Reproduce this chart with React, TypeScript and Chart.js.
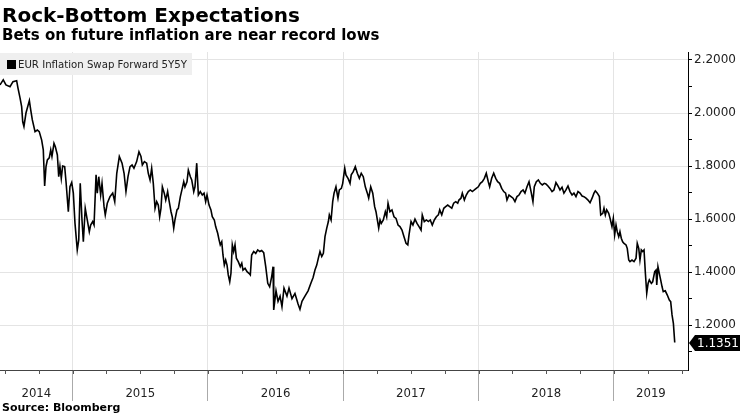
import React, { useEffect, useRef } from 'react';
import { Chart, registerables } from 'chart.js';

Chart.register(...registerables);

const titleText = 'Rock-Bottom Expectations';
const subtitleText = 'Bets on future inflation are near record lows';
const sourceText = 'Source: Bloomberg';
const seriesName = 'EUR Inflation Swap Forward 5Y5Y';

// decimal-year dates of the observations
const dates = [
  2014.463, 2014.487, 2014.507, 2014.537, 2014.559, 2014.586, 2014.596, 2014.611, 2014.623, 2014.631,
  2014.640, 2014.655, 2014.680, 2014.690, 2014.702, 2014.722, 2014.739, 2014.753, 2014.771, 2014.783,
  2014.793, 2014.803, 2014.813, 2014.827, 2014.838, 2014.847, 2014.862, 2014.872, 2014.887, 2014.897,
  2014.906, 2014.916, 2014.926, 2014.941, 2014.951, 2014.968, 2014.980, 2014.993, 2015.005, 2015.017,
  2015.034, 2015.045, 2015.056, 2015.069, 2015.079, 2015.093, 2015.108, 2015.123, 2015.133, 2015.148,
  2015.158, 2015.173, 2015.182, 2015.193, 2015.207, 2015.217, 2015.232, 2015.241, 2015.256, 2015.276,
  2015.296, 2015.311, 2015.326, 2015.345, 2015.365, 2015.380, 2015.394, 2015.409, 2015.424, 2015.439,
  2015.453, 2015.473, 2015.490, 2015.505, 2015.515, 2015.530, 2015.547, 2015.559, 2015.572, 2015.584,
  2015.596, 2015.609, 2015.621, 2015.633, 2015.643, 2015.653, 2015.663, 2015.677, 2015.688, 2015.702,
  2015.712, 2015.727, 2015.736, 2015.747, 2015.756, 2015.771, 2015.781, 2015.796, 2015.810, 2015.821,
  2015.830, 2015.845, 2015.855, 2015.870, 2015.880, 2015.895, 2015.904, 2015.917, 2015.929, 2015.943,
  2015.958, 2015.971, 2015.983, 2015.993, 2016.008, 2016.022, 2016.032, 2016.047, 2016.057, 2016.072,
  2016.082, 2016.091, 2016.102, 2016.111, 2016.121, 2016.131, 2016.141, 2016.150, 2016.161, 2016.170,
  2016.180, 2016.190, 2016.200, 2016.210, 2016.224, 2016.239, 2016.250, 2016.259, 2016.274, 2016.289,
  2016.303, 2016.313, 2016.323, 2016.338, 2016.353, 2016.368, 2016.383, 2016.397, 2016.412, 2016.427,
  2016.442, 2016.456, 2016.471, 2016.481, 2016.486, 2016.503, 2016.518, 2016.533, 2016.547, 2016.562,
  2016.584, 2016.599, 2016.621, 2016.643, 2016.666, 2016.680, 2016.695, 2016.717, 2016.740, 2016.762,
  2016.777, 2016.791, 2016.804, 2016.816, 2016.828, 2016.841, 2016.853, 2016.865, 2016.878, 2016.890,
  2016.897, 2016.910, 2016.922, 2016.932, 2016.946, 2016.961, 2016.971, 2016.986, 2016.996, 2017.011,
  2017.020, 2017.035, 2017.050, 2017.059, 2017.074, 2017.089, 2017.104, 2017.119, 2017.133, 2017.148,
  2017.163, 2017.178, 2017.188, 2017.203, 2017.218, 2017.232, 2017.242, 2017.252, 2017.262, 2017.272,
  2017.281, 2017.296, 2017.311, 2017.321, 2017.331, 2017.345, 2017.360, 2017.375, 2017.390, 2017.405,
  2017.419, 2017.434, 2017.449, 2017.464, 2017.477, 2017.486, 2017.501, 2017.515, 2017.530, 2017.545,
  2017.560, 2017.575, 2017.584, 2017.599, 2017.614, 2017.629, 2017.643, 2017.658, 2017.673, 2017.688,
  2017.703, 2017.713, 2017.728, 2017.743, 2017.757, 2017.772, 2017.787, 2017.802, 2017.816, 2017.831,
  2017.846, 2017.855, 2017.870, 2017.880, 2017.895, 2017.909, 2017.924, 2017.939, 2017.954, 2017.969,
  2017.983, 2017.998, 2018.013, 2018.028, 2018.043, 2018.057, 2018.072, 2018.082, 2018.097, 2018.112,
  2018.127, 2018.141, 2018.156, 2018.171, 2018.186, 2018.200, 2018.210, 2018.225, 2018.240, 2018.255,
  2018.269, 2018.284, 2018.299, 2018.314, 2018.329, 2018.343, 2018.358, 2018.373, 2018.388, 2018.402,
  2018.412, 2018.427, 2018.442, 2018.457, 2018.471, 2018.486, 2018.498, 2018.513, 2018.528, 2018.543,
  2018.557, 2018.572, 2018.587, 2018.602, 2018.617, 2018.631, 2018.646, 2018.661, 2018.676, 2018.691,
  2018.705, 2018.720, 2018.735, 2018.750, 2018.765, 2018.779, 2018.794, 2018.809, 2018.824, 2018.839,
  2018.853, 2018.863, 2018.878, 2018.893, 2018.903, 2018.918, 2018.927, 2018.937, 2018.947, 2018.962,
  2018.972, 2018.986, 2018.996, 2019.006, 2019.016, 2019.025, 2019.036, 2019.045, 2019.055, 2019.065,
  2019.075, 2019.090, 2019.099, 2019.110, 2019.119, 2019.134, 2019.149, 2019.164, 2019.173, 2019.184,
  2019.193, 2019.203, 2019.213, 2019.223, 2019.233, 2019.243, 2019.253, 2019.262, 2019.277, 2019.287,
  2019.302, 2019.312, 2019.317, 2019.326, 2019.336, 2019.346, 2019.356, 2019.365, 2019.380, 2019.395,
  2019.410, 2019.420, 2019.430, 2019.440, 2019.450,
];

// EUR 5y5y inflation swap forward
const values = [
  2.106, 2.125, 2.106, 2.099, 2.118, 2.122, 2.094, 2.057, 2.024, 1.967,
  1.949, 2.000, 2.047, 2.012, 1.974, 1.930, 1.936, 1.930, 1.898, 1.861,
  1.725, 1.798, 1.823, 1.831, 1.861, 1.836, 1.886, 1.873, 1.842, 1.760,
  1.798, 1.754, 1.800, 1.798, 1.741, 1.628, 1.722, 1.738, 1.698, 1.586,
  1.484, 1.522, 1.735, 1.597, 1.515, 1.641, 1.597, 1.553, 1.578, 1.591,
  1.578, 1.767, 1.698, 1.760, 1.691, 1.735, 1.647, 1.616, 1.660, 1.685,
  1.698, 1.666, 1.773, 1.836, 1.811, 1.773, 1.704, 1.760, 1.798, 1.804,
  1.792, 1.817, 1.854, 1.836, 1.804, 1.817, 1.811, 1.773, 1.748, 1.792,
  1.735, 1.641, 1.666, 1.653, 1.609, 1.641, 1.722, 1.698, 1.672, 1.704,
  1.672, 1.628, 1.609, 1.566, 1.597, 1.635, 1.641, 1.685, 1.716, 1.741,
  1.722, 1.741, 1.785, 1.760, 1.748, 1.704, 1.722, 1.811, 1.691, 1.704,
  1.691, 1.698, 1.666, 1.691, 1.653, 1.635, 1.609, 1.597, 1.572, 1.547,
  1.522, 1.503, 1.515, 1.465, 1.427, 1.446, 1.427, 1.390, 1.364, 1.396,
  1.503, 1.478, 1.503, 1.453, 1.440, 1.421, 1.434, 1.408, 1.415, 1.402,
  1.396, 1.390, 1.465, 1.478, 1.471, 1.484, 1.478, 1.482, 1.474, 1.421,
  1.358, 1.345, 1.383, 1.421, 1.258, 1.330, 1.290, 1.310, 1.270, 1.340,
  1.310, 1.340, 1.300, 1.320, 1.280, 1.260, 1.290, 1.310, 1.330, 1.360,
  1.380, 1.408, 1.427, 1.453, 1.478, 1.459, 1.471, 1.534, 1.566, 1.591,
  1.616, 1.597, 1.666, 1.698, 1.722, 1.679, 1.710, 1.716, 1.735, 1.792,
  1.767, 1.754, 1.735, 1.767, 1.779, 1.798, 1.773, 1.754, 1.773, 1.760,
  1.722, 1.698, 1.679, 1.722, 1.698, 1.647, 1.628, 1.597, 1.566, 1.597,
  1.584, 1.597, 1.628, 1.609, 1.660, 1.628, 1.635, 1.609, 1.603, 1.578,
  1.572, 1.559, 1.534, 1.509, 1.503, 1.541, 1.591, 1.578, 1.600, 1.584,
  1.572, 1.559, 1.616, 1.591, 1.597, 1.591, 1.597, 1.578, 1.597, 1.609,
  1.616, 1.635, 1.616, 1.641, 1.647, 1.653, 1.647, 1.641, 1.660, 1.666,
  1.660, 1.672, 1.679, 1.698, 1.672, 1.691, 1.704, 1.710, 1.704, 1.710,
  1.716, 1.722, 1.735, 1.741, 1.754, 1.773, 1.741, 1.722, 1.754, 1.773,
  1.754, 1.741, 1.735, 1.716, 1.704, 1.698, 1.672, 1.691, 1.685, 1.679,
  1.666, 1.685, 1.691, 1.704, 1.710, 1.698, 1.722, 1.741, 1.704, 1.666,
  1.722, 1.741, 1.748, 1.735, 1.729, 1.735, 1.733, 1.725, 1.716, 1.704,
  1.710, 1.738, 1.725, 1.710, 1.720, 1.698, 1.710, 1.725, 1.704, 1.691,
  1.698, 1.685, 1.704, 1.698, 1.687, 1.685, 1.679, 1.672, 1.662, 1.679,
  1.698, 1.707, 1.698, 1.685, 1.616, 1.622, 1.641, 1.616, 1.635, 1.622,
  1.603, 1.572, 1.603, 1.541, 1.578, 1.553, 1.534, 1.553, 1.528, 1.515,
  1.509, 1.503, 1.490, 1.446, 1.440, 1.446, 1.440, 1.453, 1.509, 1.490,
  1.446, 1.484, 1.478, 1.484, 1.396, 1.321, 1.358, 1.371, 1.358, 1.364,
  1.402, 1.408, 1.352, 1.421, 1.396, 1.371, 1.346, 1.327, 1.330, 1.314,
  1.295, 1.289, 1.239, 1.207, 1.1351,
];

const yearStarts = [2014, 2015, 2016, 2017, 2018, 2019];
const yearLabels = ['2014', '2015', '2016', '2017', '2018', '2019'];
const yTickValues = [1.1, 1.2, 1.3, 1.4, 1.5, 1.6, 1.7, 1.8, 1.9, 2.0, 2.1, 2.2];
const yLabelledValues = [1.2, 1.4, 1.6, 1.8, 2.0, 2.2];
const xMin = 2014.463;
const xMax = 2019.548;
const yMin = 1.0315;
const yMax = 2.23;

const axisFont = "'DejaVu Sans Condensed', 'DejaVu Sans', sans-serif";

const isLabelledY = (v: number) => yLabelledValues.some((l) => Math.abs(l - v) < 1e-6);
const isYearStart = (v: number) => yearStarts.some((y) => Math.abs(y - v) < 1e-6);

const extrasPlugin = {
  id: 'extras',
  afterDraw(chart: any) {
    const { ctx } = chart;
    const xs = chart.scales.x;
    const ys = chart.scales.y;
    ctx.save();
    // quarterly minor ticks on the time axis
    ctx.strokeStyle = '#555';
    ctx.lineWidth = 1;
    for (let k = Math.ceil(xs.min * 4); k <= Math.floor(xs.max * 4); k++) {
      const px = Math.round(xs.getPixelForValue(k / 4)) + 0.5;
      ctx.beginPath();
      ctx.moveTo(px, xs.top);
      ctx.lineTo(px, xs.top + 4);
      ctx.stroke();
    }
    // last value tag
    const last = values[values.length - 1];
    const py = Math.round(ys.getPixelForValue(last));
    const x0 = ys.left + 1;
    const h = 8;
    ctx.fillStyle = '#000';
    ctx.beginPath();
    ctx.moveTo(x0, py);
    ctx.lineTo(x0 + 6, py - h);
    ctx.lineTo(chart.width, py - h);
    ctx.lineTo(chart.width, py + h);
    ctx.lineTo(x0 + 6, py + h);
    ctx.closePath();
    ctx.fill();
    ctx.fillStyle = '#fff';
    ctx.font = "12px 'DejaVu Sans', sans-serif";
    ctx.textBaseline = 'middle';
    ctx.textAlign = 'left';
    ctx.fillText(last.toFixed(4), x0 + 8, py + 1);
    ctx.restore();
  },
};

function ChartCanvas() {
  const ref = useRef<HTMLCanvasElement | null>(null);
  useEffect(() => {
    if (!ref.current) return;
    const chart = new Chart(ref.current, {
      type: 'line',
      data: {
        datasets: [
          {
            label: seriesName,
            data: dates.map((d, i) => ({ x: d, y: values[i] })),
            borderColor: '#000',
            borderWidth: 1.6,
            pointRadius: 0,
            tension: 0,
            fill: false,
          },
        ],
      },
      options: {
        responsive: false,
        animation: false,
        parsing: false as any,
        layout: { padding: { top: 52, left: 0, right: 0, bottom: 0 } },
        plugins: { legend: { display: false }, tooltip: { enabled: false } },
        scales: {
          x: {
            type: 'linear',
            position: 'bottom',
            min: xMin,
            max: xMax,
            afterBuildTicks: (scale: any) => {
              const t: number[] = [];
              yearStarts.forEach((y) => {
                if (y > scale.min && y < scale.max) t.push(y);
                const a = Math.max(y, scale.min);
                const b = Math.min(y + 1, scale.max);
                if (b > a) t.push((a + b) / 2);
              });
              t.sort((p, q) => p - q);
              scale.ticks = t.map((v) => ({ value: v }));
            },
            afterFit: (scale: any) => {
              scale.height = 46;
            },
            grid: {
              color: (c: any) => (c.tick && isYearStart(c.tick.value) ? '#e4e4e4' : 'transparent'),
              tickColor: (c: any) => (c.tick && isYearStart(c.tick.value) ? '#aaaaaa' : 'transparent'),
              tickLength: 31,
              lineWidth: 1,
            },
            border: { display: true, color: '#444', width: 1 },
            ticks: {
              autoSkip: false,
              maxRotation: 0,
              minRotation: 0,
              padding: -15,
              color: '#222',
              font: { family: axisFont, size: 13 },
              callback: (v: any) => {
                const n = Number(v);
                if (isYearStart(n)) return '';
                const idx = yearStarts.indexOf(Math.floor(n));
                return idx >= 0 ? yearLabels[idx] : '';
              },
            },
          },
          y: {
            type: 'linear',
            position: 'right',
            min: yMin,
            max: yMax,
            afterBuildTicks: (scale: any) => {
              scale.ticks = yTickValues.map((v) => ({ value: v }));
            },
            afterFit: (scale: any) => {
              scale.width = 52;
            },
            grid: {
              color: (c: any) => (c.tick && isLabelledY(c.tick.value) ? '#e4e4e4' : 'transparent'),
              tickColor: '#000',
              tickLength: 4,
              lineWidth: 1,
            },
            border: { display: true, color: '#000', width: 1 },
            ticks: {
              autoSkip: false,
              padding: 2,
              color: '#222',
              font: { family: "'DejaVu Sans', sans-serif", size: 12 },
              callback: (v: any) => (isLabelledY(Number(v)) ? Number(v).toFixed(4) : ''),
            },
          },
        },
      },
      plugins: [extrasPlugin],
    } as any);
    return () => chart.destroy();
  }, []);
  return <canvas ref={ref} width={740} height={416} style={{ position: 'absolute', left: 0, top: 0 }} />;
}

export default function App() {
  const bold = "'DejaVu Sans', Verdana, sans-serif";
  return (
    <div
      style={{
        position: 'absolute',
        left: 0,
        top: 0,
        width: 740,
        height: 416,
        overflow: 'hidden',
        background: '#fff',
      }}
    >
      <ChartCanvas />
      <div
        style={{
          position: 'absolute',
          left: 2,
          top: 5,
          fontFamily: bold,
          fontWeight: 'bold',
          fontSize: 20,
          lineHeight: '20px',
          color: '#000',
          whiteSpace: 'nowrap',
        }}
      >
        {titleText}
      </div>
      <div
        style={{
          position: 'absolute',
          left: 2,
          top: 28,
          fontFamily: bold,
          fontWeight: 'bold',
          fontSize: 15,
          lineHeight: '15px',
          color: '#000',
          whiteSpace: 'nowrap',
        }}
      >
        {subtitleText}
      </div>
      <div
        style={{
          position: 'absolute',
          left: 0,
          top: 53,
          width: 192,
          height: 22,
          background: '#efefef',
          display: 'flex',
          alignItems: 'center',
          fontFamily: axisFont,
          fontSize: 11.3,
          color: '#222',
          whiteSpace: 'nowrap',
        }}
      >
        <span
          style={{
            display: 'inline-block',
            flex: '0 0 9px',
            width: 9,
            height: 9,
            background: '#000',
            marginLeft: 7,
            marginRight: 2,
          }}
        />
        <span>{seriesName}</span>
      </div>
      <div
        style={{
          position: 'absolute',
          left: 2,
          top: 402,
          fontFamily: bold,
          fontWeight: 'bold',
          fontSize: 11,
          lineHeight: '11px',
          color: '#000',
          whiteSpace: 'nowrap',
        }}
      >
        {sourceText}
      </div>
    </div>
  );
}
